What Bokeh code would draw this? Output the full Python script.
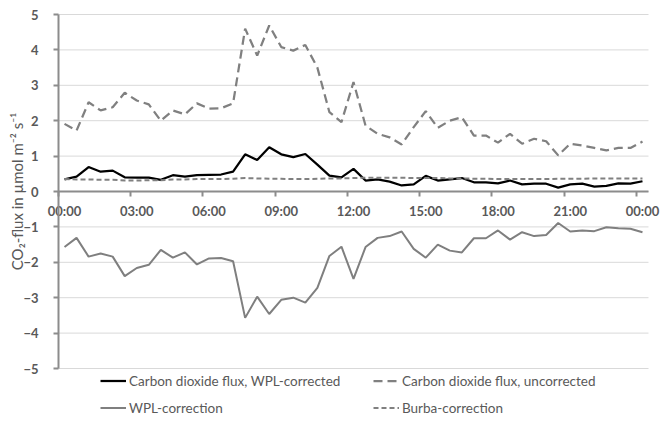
import numpy as np
from bokeh.plotting import figure
from bokeh.models import (ColumnDataSource, LinearAxis, FixedTicker, Range1d,
                          Legend, LegendItem)
from bokeh.embed import file_html
from bokeh.resources import INLINE

# ---- data (half-hourly, 49 values from 00:00 to 00:00) ----
tick_labels = ["00:00", "03:00", "06:00", "09:00", "12:00", "15:00", "18:00", "21:00", "00:00"]
y_ticks = [-5, -4, -3, -2, -1, 0, 1, 2, 3, 4, 5]

wpl_corrected = [0.34, 0.42, 0.69, 0.56, 0.59, 0.40, 0.39, 0.39, 0.33, 0.46,
                 0.42, 0.46, 0.47, 0.48, 0.56, 1.05, 0.89, 1.25, 1.05, 0.97,
                 1.06, 0.76, 0.45, 0.40, 0.64, 0.31, 0.34, 0.28, 0.17, 0.20,
                 0.44, 0.31, 0.34, 0.38, 0.26, 0.26, 0.23, 0.31, 0.20, 0.22,
                 0.22, 0.11, 0.20, 0.22, 0.14, 0.16, 0.23, 0.22, 0.29]

uncorrected = [1.91, 1.72, 2.52, 2.29, 2.38, 2.79, 2.57, 2.46, 2.00, 2.29,
               2.18, 2.49, 2.34, 2.35, 2.49, 4.60, 3.84, 4.69, 4.08, 3.98,
               4.14, 3.50, 2.24, 1.96, 3.09, 1.86, 1.63, 1.53, 1.33, 1.82,
               2.27, 1.80, 2.00, 2.10, 1.58, 1.58, 1.38, 1.63, 1.35, 1.49,
               1.42, 1.02, 1.35, 1.30, 1.23, 1.16, 1.23, 1.23, 1.41]

wpl_correction = [-1.57, -1.31, -1.84, -1.75, -1.84, -2.39, -2.16, -2.07, -1.65, -1.87,
                  -1.72, -2.06, -1.89, -1.88, -1.97, -3.57, -2.97, -3.46, -3.06, -3.00,
                  -3.14, -2.72, -1.82, -1.56, -2.47, -1.57, -1.31, -1.26, -1.13, -1.62,
                  -1.87, -1.50, -1.67, -1.72, -1.32, -1.32, -1.10, -1.36, -1.15, -1.26,
                  -1.23, -0.89, -1.13, -1.10, -1.12, -1.01, -1.04, -1.05, -1.15]

burba_correction = [0.35, 0.34, 0.34, 0.33, 0.33, 0.31, 0.31, 0.32, 0.32, 0.34,
                    0.34, 0.35, 0.35, 0.35, 0.36, 0.38, 0.37, 0.36, 0.36, 0.35,
                    0.35, 0.36, 0.37, 0.37, 0.38, 0.39, 0.39, 0.39, 0.39, 0.38,
                    0.38, 0.38, 0.37, 0.37, 0.36, 0.36, 0.35, 0.35, 0.35, 0.35,
                    0.35, 0.36, 0.36, 0.36, 0.37, 0.37, 0.37, 0.37, 0.37]

series_names = ["Carbon dioxide flux, WPL-corrected", "Carbon dioxide flux, uncorrected",
                "WPL-correction", "Burba-correction"]
y_label = "CO\u2082-flux in \u00b5mol m\u207b\u00b2 s\u207b\u00b9"

# ---- layout constants (canvas pixels) ----
W, H = 662, 416
PL, PR, PT, PB = 58, 648, 14, 368      # plot area inside the canvas

n = len(wpl_corrected)
step = (n - 1) // (len(tick_labels) - 1)
x_lo, x_hi = -0.5, n - 0.5
y_lo, y_hi = min(y_ticks), max(y_ticks)
sx = (x_hi - x_lo) / (PR - PL)
sy = (y_hi - y_lo) / (PB - PT)
xr = Range1d(x_lo - PL * sx, x_hi + (W - PR) * sx)
yr = Range1d(y_lo - (H - PB) * sy, y_hi + PT * sy)

src = ColumnDataSource(dict(x=list(range(n)), a=wpl_corrected, b=uncorrected,
                            c=wpl_correction, d=burba_correction))

TXT = "#595959"
AX = "#8c8c8c"
FONT = "Lato"

p = figure(width=W, height=H, output_backend="svg", toolbar_location=None,
           x_range=xr, y_range=yr, x_axis_location=None, y_axis_location=None,
           min_border=0, min_border_left=0, min_border_right=0,
           min_border_top=0, min_border_bottom=0)
p.outline_line_color = None
p.background_fill_color = "white"
p.border_fill_color = "white"
p.grid.visible = False

# horizontal gridlines, limited to the plot area
p.segment(x0=[x_lo] * len(y_ticks), x1=[x_hi] * len(y_ticks), y0=y_ticks, y1=y_ticks,
          line_color="#d9d9d9", line_width=1)

# y axis at the left edge of the plot area
yax = LinearAxis(ticker=FixedTicker(ticks=y_ticks), axis_label=y_label,
                 fixed_location=x_lo, bounds=(y_lo, y_hi))
yax.axis_line_color = AX
yax.axis_line_width = 2
yax.major_tick_line_color = AX
yax.major_tick_line_width = 2
yax.major_tick_out = 5
yax.major_tick_in = 0
yax.minor_tick_line_color = None
yax.major_label_text_font = FONT
yax.major_label_text_font_style = "bold"
yax.major_label_text_font_size = "13px"
yax.major_label_text_color = TXT
yax.major_label_standoff = 15
yax.axis_label_text_font = FONT
yax.axis_label_text_font_style = "normal"
yax.axis_label_text_font_size = "15px"
yax.axis_label_text_color = TXT
yax.axis_label_standoff = -6
p.add_layout(yax, "left")

# x axis crossing at y = 0
major = list(range(0, n, step))
minor = [m - 0.5 for m in major]
xax = LinearAxis(ticker=FixedTicker(ticks=major, minor_ticks=minor), fixed_location=0,
                 bounds=(x_lo, x_hi))
xax.major_label_overrides = {m: lab for m, lab in zip(major, tick_labels)}
xax.axis_line_color = AX
xax.axis_line_width = 2
xax.major_tick_out = 0
xax.major_tick_in = 0
xax.minor_tick_line_color = AX
xax.minor_tick_line_width = 2
xax.minor_tick_out = 5
xax.minor_tick_in = 0
xax.major_label_text_font = FONT
xax.major_label_text_font_style = "bold"
xax.major_label_text_font_size = "13px"
xax.major_label_text_color = TXT
xax.major_label_standoff = 6
p.add_layout(xax, "below")

r1 = p.line("x", "a", source=src, line_color="black", line_width=2.25)
r2 = p.line("x", "b", source=src, line_color="#808080", line_width=2.25, line_dash="9 5")
r3 = p.line("x", "c", source=src, line_color="#7f7f7f", line_width=2)
r4 = p.line("x", "d", source=src, line_color="#808080", line_width=2, line_dash="5 3")

legend = Legend(items=[LegendItem(label=series_names[0], renderers=[r1]),
                       LegendItem(label=series_names[1], renderers=[r2]),
                       LegendItem(label=series_names[2], renderers=[r3]),
                       LegendItem(label=series_names[3], renderers=[r4])],
                orientation="horizontal", ncols=2, location=(100, 0),
                glyph_width=26, glyph_height=17, label_standoff=3, spacing=10,
                padding=0, margin=0, label_width=234, label_height=17,
                border_line_alpha=0, background_fill_alpha=0,
                label_text_font=FONT, label_text_font_size="13.5px", label_text_color=TXT)
p.add_layout(legend, "center")

open("out.html", "w").write(file_html(p, INLINE))
